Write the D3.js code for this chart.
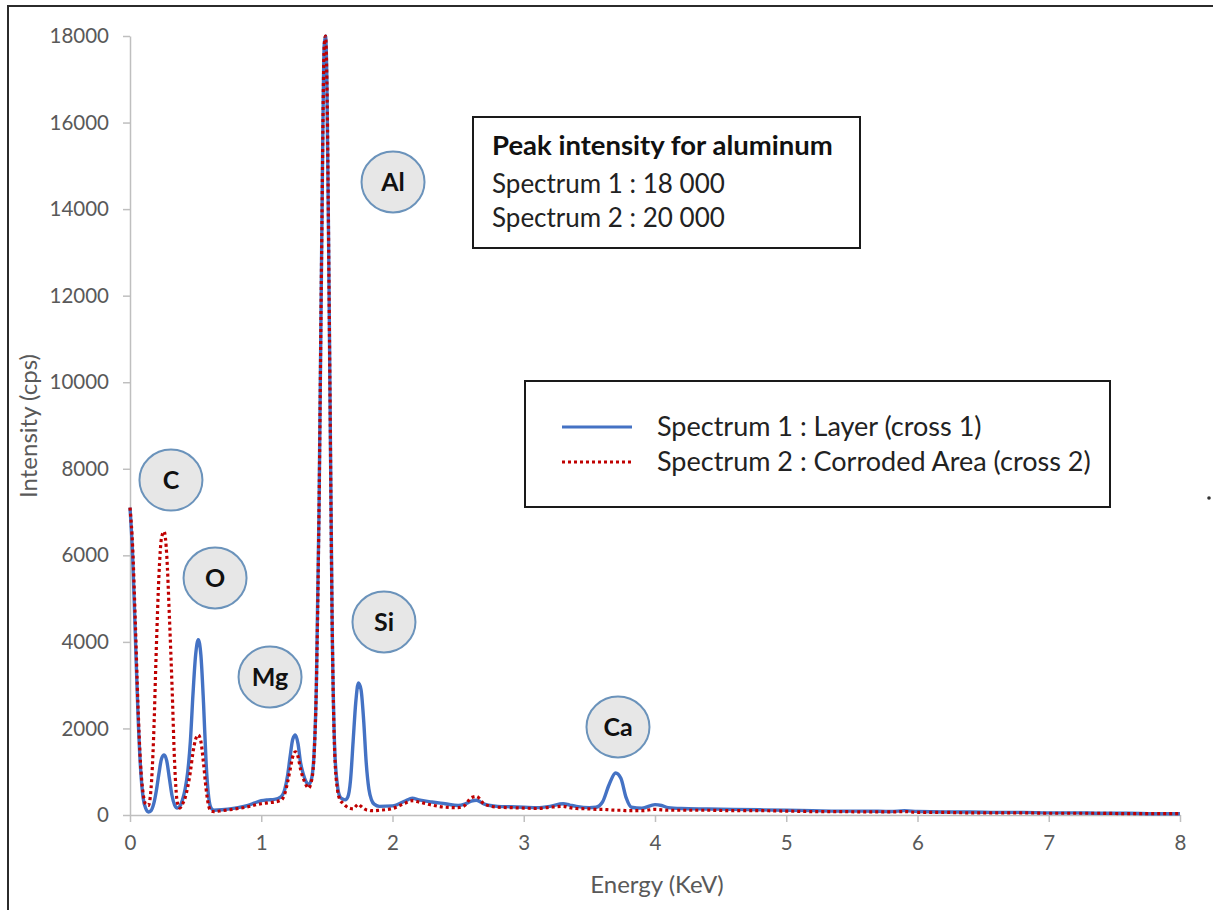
<!DOCTYPE html>
<html><head><meta charset="utf-8">
<script src="https://cdn.jsdelivr.net/npm/d3@7"></script>
<style>
html,body{margin:0;padding:0;background:#fff;}
svg{display:block;}
text{font-family:Lato,"Open Sans",sans-serif;}
</style></head>
<body>
<svg id="chart" width="1213" height="910"></svg>
<script>
// ---------- data ----------
const energy = [0.00,0.02,0.04,0.06,0.08,0.10,0.12,0.14,0.16,0.18,0.20,0.22,0.24,0.26,0.28,0.30,0.32,0.34,0.36,0.38,0.40,0.42,0.44,0.46,0.48,0.50,0.52,0.54,0.56,0.58,0.60,0.62,0.64,0.70,0.80,0.90,0.95,1.00,1.05,1.10,1.15,1.18,1.20,1.22,1.24,1.26,1.28,1.30,1.32,1.34,1.36,1.38,1.40,1.42,1.44,1.46,1.48,1.49,1.50,1.52,1.54,1.56,1.58,1.60,1.62,1.64,1.66,1.68,1.70,1.72,1.74,1.76,1.78,1.80,1.82,1.84,1.86,1.90,2.00,2.10,2.15,2.20,2.30,2.40,2.50,2.55,2.60,2.64,2.70,2.80,2.90,3.00,3.10,3.20,3.30,3.35,3.40,3.50,3.55,3.60,3.65,3.70,3.74,3.78,3.82,3.90,4.00,4.05,4.10,4.20,4.40,4.60,4.80,5.00,5.20,5.40,5.60,5.80,5.90,6.00,6.20,6.40,6.60,6.80,7.00,7.20,7.40,7.60,7.80,8.00];

const spectrum1 = [7100,6000,4200,2400,1100,400,150,70,100,250,550,950,1300,1390,1250,850,450,230,160,200,350,600,1000,1700,2800,3700,4050,3700,2600,1200,400,150,110,120,160,220,280,330,350,360,420,600,900,1350,1750,1850,1650,1200,950,780,700,800,1300,3000,7000,13000,17800,18000,17000,11000,4500,1500,700,420,370,350,420,800,1700,2600,3050,2900,2200,1200,600,350,250,200,210,330,390,350,300,260,220,250,320,340,250,200,190,180,170,200,260,230,200,170,180,300,700,970,850,400,180,160,240,220,170,150,140,130,120,110,100,90,90,80,100,80,70,70,60,60,50,50,40,40,30,30];

const spectrum2 = [7100,6200,4500,2600,1200,500,250,220,600,1800,3800,5500,6400,6550,6000,4600,3000,1200,300,160,250,400,650,1000,1450,1750,1850,1700,1200,600,200,90,80,100,140,190,230,260,280,300,340,500,750,1050,1350,1460,1350,1050,850,700,620,750,1250,3000,7000,13000,17800,18000,17000,11000,4500,1400,600,350,280,220,170,150,140,200,250,200,150,120,110,100,100,110,150,280,330,300,230,180,170,220,400,430,250,180,170,160,150,180,200,170,150,140,130,130,120,110,110,100,100,100,130,120,110,110,110,100,100,90,80,80,70,70,80,60,60,50,50,50,40,40,40,30,30,30];

const xTicks = [0,1,2,3,4,5,6,7,8];
const yTicks = [0,2000,4000,6000,8000,10000,12000,14000,16000,18000];

const seriesNames = ["Spectrum 1 : Layer (cross 1)", "Spectrum 2 : Corroded Area (cross 2)"];
const elementLabels = ["C","O","Mg","Al","Si","Ca"];
const labelEnergy = [0.312,0.648,1.067,2.004,1.935,3.718];
const labelIntensity = [7740,5476,3189,14626,4459,2033];

const noteTitle = "Peak intensity for aluminum";
const noteLines = ["Spectrum 1 : 18 000","Spectrum 2 : 20 000"];

// ---------- drawing ----------
const svg = d3.select("#chart");
const x = d3.scaleLinear().domain([0,8]).range([130,1180]);
const y = d3.scaleLinear().domain([0,18000]).range([815,36]);

// outer frame
svg.append("path").attr("d","M8,910 L8,6 L1213,6")
  .attr("fill","none").attr("stroke","#2b2b2b").attr("stroke-width",2);
svg.append("circle").attr("cx",1209).attr("cy",498).attr("r",1.8).attr("fill","#333");

const axisColor = "#bfbfbf", tickTextColor = "#595959";

const gy = svg.append("g").attr("transform",`translate(${x(0)},0)`)
  .call(d3.axisLeft(y).tickValues(yTicks).tickFormat(d3.format("d")).tickSize(7).tickPadding(14).tickSizeOuter(0));
const gx = svg.append("g").attr("transform",`translate(0,${y(0)})`)
  .call(d3.axisBottom(x).tickValues(xTicks).tickFormat(d3.format("d")).tickSize(7).tickPadding(13).tickSizeOuter(0));
[gx,gy].forEach(g=>{
  g.select(".domain").attr("stroke",axisColor).attr("stroke-width",1.5);
  g.selectAll(".tick line").attr("stroke",axisColor).attr("stroke-width",1.5);
  g.selectAll(".tick text").attr("fill",tickTextColor).style("font-size","20.5px").style("font-family","Lato");
});

svg.append("text").attr("transform","translate(37,426) rotate(-90)")
  .attr("text-anchor","middle").attr("fill",tickTextColor).style("font-size","24px").text("Intensity (cps)");
svg.append("text").attr("x",657).attr("y",893)
  .attr("text-anchor","middle").attr("fill",tickTextColor).style("font-size","24px").text("Energy (KeV)");

// lines
const line = d3.line().x((d,i)=>x(energy[i])).y(d=>y(d)).curve(d3.curveMonotoneX);
svg.append("path").datum(spectrum1).attr("d",line)
  .attr("fill","none").attr("stroke","#4472C4").attr("stroke-width",3.4).attr("stroke-linejoin","round");
svg.append("path").datum(spectrum2).attr("d",line)
  .attr("fill","none").attr("stroke","#C00000").attr("stroke-width",3.2).attr("stroke-dasharray","3,3");

// element bubbles
const lab = svg.append("g").selectAll("g").data(elementLabels).join("g")
  .attr("transform",(d,i)=>`translate(${x(labelEnergy[i])},${y(labelIntensity[i])})`);
lab.append("ellipse").attr("rx",31.5).attr("ry",30.5)
  .attr("fill","#e7e7e7").attr("stroke","#6b93bb").attr("stroke-width",2);
lab.append("text").attr("text-anchor","middle").attr("dy","0.36em")
  .attr("fill","#111").style("font-size","25px").style("font-weight","bold").text(d=>d);

// note box
const note = svg.append("g");
note.append("rect").attr("x",473).attr("y",117).attr("width",387).attr("height",131)
  .attr("fill","#fff").attr("stroke","#1a1a1a").attr("stroke-width",2);
note.append("text").attr("x",492).attr("y",155).attr("fill","#111")
  .style("font-size","27.5px").style("font-weight","bold").text(noteTitle);
noteLines.forEach((t,i)=>note.append("text").attr("x",492).attr("y",193+i*34)
  .attr("fill","#222").style("font-size","26px").text(t));

// legend
const leg = svg.append("g");
leg.append("rect").attr("x",525).attr("y",381).attr("width",585).attr("height",126)
  .attr("fill","#fff").attr("stroke","#1a1a1a").attr("stroke-width",2);
const legStyles = [{c:"#4472C4",dash:null},{c:"#C00000",dash:"3,3"}];
seriesNames.forEach((n,i)=>{
  const yy = 427 + i*35;
  leg.append("line").attr("x1",562).attr("x2",632).attr("y1",yy).attr("y2",yy)
    .attr("stroke",legStyles[i].c).attr("stroke-width",3.2).attr("stroke-dasharray",legStyles[i].dash);
  leg.append("text").attr("x",657).attr("y",yy).attr("dy","0.35em").attr("fill","#222")
    .style("font-size","27px").text(n);
});
</script>
</body></html>
